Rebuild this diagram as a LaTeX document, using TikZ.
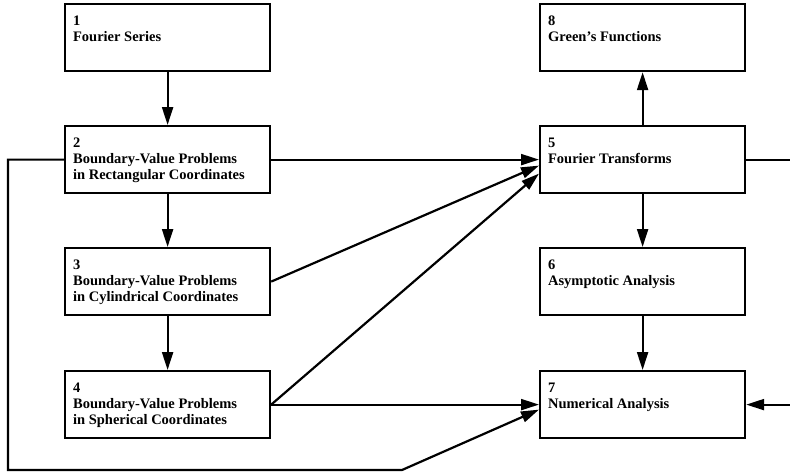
\documentclass[tikz,border=0pt]{standalone}
\usepackage{fontspec}
\setmainfont{Liberation Serif}
\usetikzlibrary{arrows.meta,calc}
\tikzset{
  box/.style={draw, line width=2.2pt, anchor=north west, inner xsep=8pt, inner ysep=6pt,
    font=\fontsize{14.5}{16}\selectfont\bfseries},
  conn/.style={line width=2.2pt},
  arr/.style={conn, -{Triangle[length=18pt,width=11pt]}}
}
\newcommand{\boxtext}[2]{\parbox[c][55pt][t]{189pt}{\vspace*{6pt}#1\\#2}}
\begin{document}
\begin{tikzpicture}[x=1pt,y=-1pt]
\useasboundingbox (0,0) rectangle (790,475);
\node[box] (b1) at (64,3)   {\boxtext{1}{Fourier Series}};
\node[box] (b2) at (64,125) {\boxtext{2}{Boundary-Value Problems\\in Rectangular Coordinates}};
\node[box] (b3) at (64,247) {\boxtext{3}{Boundary-Value Problems\\in Cylindrical Coordinates}};
\node[box] (b4) at (64,370) {\boxtext{4}{Boundary-Value Problems\\in Spherical Coordinates}};
\node[box] (b8) at (539,3)   {\boxtext{8}{Green's Functions}};
\node[box] (b5) at (539,125) {\boxtext{5}{Fourier Transforms}};
\node[box] (b6) at (539,247) {\boxtext{6}{Asymptotic Analysis}};
\node[box] (b7) at (539,370) {\boxtext{7}{Numerical Analysis}};
\coordinate (lb) at (8,470);
\coordinate (lk) at (402,470);
\coordinate (re) at (791,0);
\draw[arr] (b1) -- (b2);
\draw[arr] (b2) -- (b3);
\draw[arr] (b3) -- (b4);
\draw[arr] (b5) -- (b8);
\draw[arr] (b5) -- (b6);
\draw[arr] (b6) -- (b7);
\draw[arr] (b2.east) -- (b5.west);
\draw[arr] (b3.east) -- ([yshift=-6pt]b5.west);
\draw[arr] (b4.east) -- ([yshift=-14pt]b5.west);
\draw[arr] (b4.east) -- (b7.west);
\draw[arr] (b2.west) -| (lb) -- (lk) -- ([yshift=-5pt]b7.west);
\draw[conn] (b5.east) -- (b5.east -| re);
\draw[arr] (b7.east -| re) -- (b7.east);
\end{tikzpicture}
\end{document}
